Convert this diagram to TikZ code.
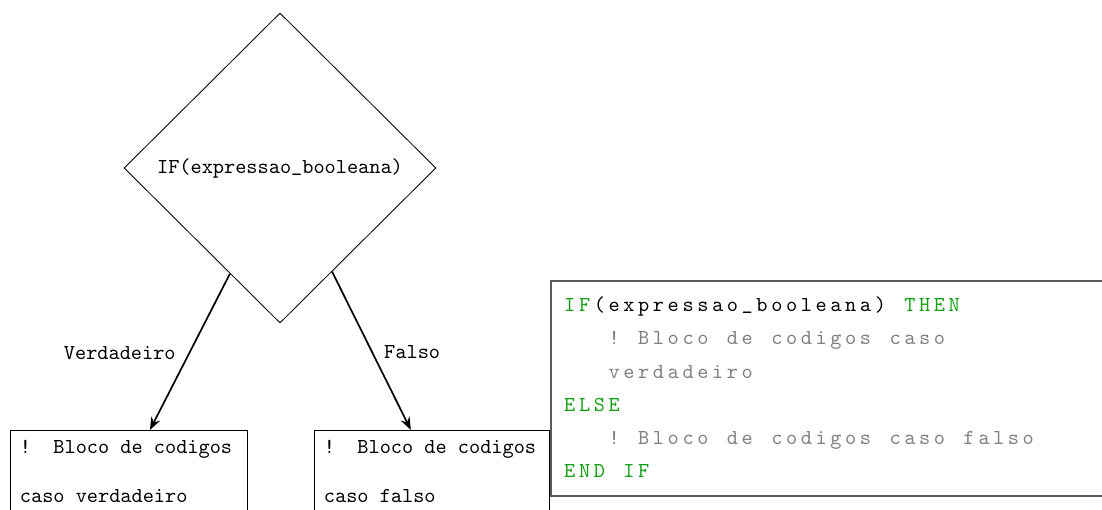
\documentclass[tikz,border=0pt]{standalone}
\usetikzlibrary{shapes.geometric,arrows.meta,calc}

\definecolor{kwgreen}{RGB}{20,160,20}
\definecolor{cmtgray}{RGB}{128,128,128}
\definecolor{framegray}{RGB}{90,90,90}

% classic Computer Modern typewriter
\newcommand\cmtypewriter{\fontencoding{OT1}\fontfamily{cmtt}\fontsize{10pt}{12pt}\selectfont}
\newcommand\us{\char95\relax}

% fixed-pitch columns for the listing (one box per character, ~ is a blank column)
\newlength\colw
\setlength\colw{6.95pt}
\newcommand\fixcols[1]{\fixcolsloop#1\relax}
\def\fixcolsloop#1{\ifx\relax#1\else\makebox[\colw][c]{#1}\expandafter\fixcolsloop\fi}
\newcommand\kw[1]{{\color{kwgreen}\fixcols{#1}}}
\newcommand\cmt[1]{{\color{cmtgray}\fixcols{#1}}}

\begin{document}
\begin{tikzpicture}[x=0.47pt,y=-0.47pt,font=\cmtypewriter,
  decision/.style={diamond,draw,line width=0.4pt,inner sep=0pt,
    minimum width=146.6pt,minimum height=145.7pt},
  blockbox/.style={draw,line width=0.6pt,rectangle,anchor=north west,
    minimum height=60pt,inner sep=0pt},
  branch/.style={-{Stealth[length=6pt,width=4.5pt]},line width=0.8pt},
  edgelabel/.style={inner sep=0pt},
  boxline/.style={anchor=base west,inner sep=0pt},
  codeline/.style={anchor=base west,inner sep=0pt},
  codeframe/.style={draw=framegray,line width=0.5pt}]

\clip (0,0) rectangle (1102,509);

% decision
\node[decision] (dia) at (280,168) {IF(expressao\us booleana)};

% branch blocks
\node[blockbox,minimum width=111.4pt] (lbox) at (10,430) {};
\node[blockbox,minimum width=110.45pt] (rbox) at (314,430) {};

\node[boxline] (l1) at (19.5,453) {!~~Bloco de codigos};
\node[boxline] (l2) at (19.5,502) {caso verdadeiro};
\node[boxline] (r1) at (323.5,453) {!~~Bloco de codigos};
\node[boxline] (r2) at (323.5,502) {caso falso};

% branches
\draw[branch] ($(dia.west)!0.68!(dia.south)$) -- ($(lbox.north west)!0.587!(lbox.north east)$)
  node[edgelabel,midway,anchor=east,xshift=-6.3pt,yshift=-0.6pt] (lv) {Verdadeiro};
\draw[branch] ($(dia.east)!0.667!(dia.south)$) -- ($(rbox.north west)!0.41!(rbox.north east)$)
  node[edgelabel,midway,anchor=west,xshift=5.6pt,yshift=-0.6pt] (lf) {Falso};

% listing
\draw[codeframe] (551,281) rectangle (1120,496);
\node[codeline] (c1) at (562,311.7) {\kw{IF}\fixcols{(expressao\us booleana)~}\kw{THEN}};
\node[codeline] (c2) at (562,344.9) {\fixcols{~~~}\cmt{!~Bloco~de~codigos~caso}};
\node[codeline] (c3) at (562,378.1) {\fixcols{~~~}\cmt{verdadeiro}};
\node[codeline] (c4) at (562,411.3) {\kw{ELSE}};
\node[codeline] (c5) at (562,444.5) {\fixcols{~~~}\cmt{!~Bloco~de~codigos~caso~falso}};
\node[codeline] (c6) at (562,477.7) {\kw{END~IF}};

\end{tikzpicture}
\end{document}
